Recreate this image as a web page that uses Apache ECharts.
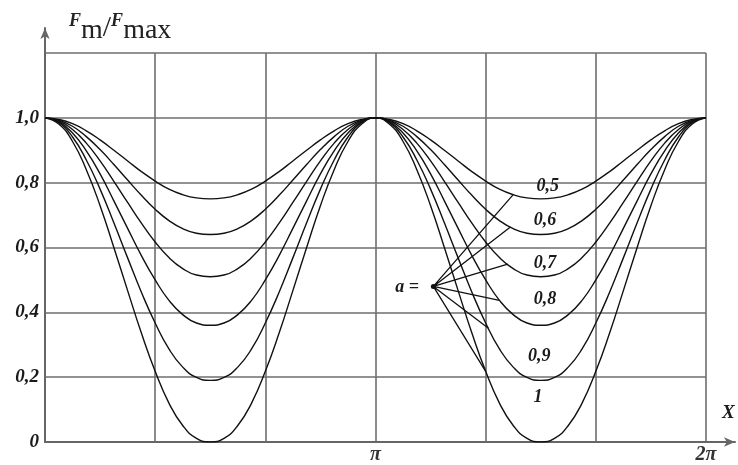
<!DOCTYPE html>
<html>
<head>
<meta charset="utf-8">
<script src="https://cdn.jsdelivr.net/npm/echarts@6/dist/echarts.min.js"></script>
<style>
  html, body { margin: 0; padding: 0; background: #fff; }
  #chart { width: 738px; height: 465px; }
</style>
</head>
<body>
<div id="chart"></div>
<script>
// x positions in steps of π/24 over one full period [0, 2π]
const xSteps = [0,1,2,3,4,5,6,7,8,9,10,11,12,13,14,15,16,17,18,19,20,21,22,23,24,
                25,26,27,28,29,30,31,32,33,34,35,36,37,38,39,40,41,42,43,44,45,46,47,48];

// Fm/Fmax for each value of a
const curveA05 = [1.000,0.995,0.982,0.960,0.932,0.900,0.867,0.834,0.805,0.780,0.763,0.753,0.750,
                  0.753,0.763,0.780,0.805,0.834,0.867,0.900,0.932,0.960,0.982,0.995,1.000,
                  0.995,0.982,0.960,0.932,0.900,0.867,0.834,0.805,0.780,0.763,0.753,0.750,
                  0.753,0.763,0.780,0.805,0.834,0.867,0.900,0.932,0.960,0.982,0.995,1.000];
const curveA06 = [1.000,0.993,0.974,0.942,0.902,0.856,0.808,0.761,0.718,0.683,0.658,0.644,0.640,
                  0.644,0.658,0.683,0.718,0.761,0.808,0.856,0.902,0.942,0.974,0.993,1.000,
                  0.993,0.974,0.942,0.902,0.856,0.808,0.761,0.718,0.683,0.658,0.644,0.640,
                  0.644,0.658,0.683,0.718,0.761,0.808,0.856,0.902,0.942,0.974,0.993,1.000];
const curveA07 = [1.000,0.991,0.964,0.922,0.867,0.804,0.739,0.675,0.617,0.569,0.535,0.515,0.510,
                  0.515,0.535,0.569,0.617,0.675,0.739,0.804,0.867,0.922,0.964,0.991,1.000,
                  0.991,0.964,0.922,0.867,0.804,0.739,0.675,0.617,0.569,0.535,0.515,0.510,
                  0.515,0.535,0.569,0.617,0.675,0.739,0.804,0.867,0.922,0.964,0.991,1.000];
const curveA08 = [1.000,0.988,0.953,0.898,0.827,0.744,0.659,0.575,0.500,0.437,0.393,0.367,0.360,
                  0.367,0.393,0.437,0.500,0.575,0.659,0.744,0.827,0.898,0.953,0.988,1.000,
                  0.988,0.953,0.898,0.827,0.744,0.659,0.575,0.500,0.437,0.393,0.367,0.360,
                  0.367,0.393,0.437,0.500,0.575,0.659,0.744,0.827,0.898,0.953,0.988,1.000];
const curveA09 = [1.000,0.985,0.941,0.870,0.780,0.676,0.568,0.462,0.367,0.287,0.231,0.199,0.190,
                  0.199,0.231,0.287,0.367,0.462,0.568,0.676,0.780,0.870,0.941,0.985,1.000,
                  0.985,0.941,0.870,0.780,0.676,0.568,0.462,0.367,0.287,0.231,0.199,0.190,
                  0.199,0.231,0.287,0.367,0.462,0.568,0.676,0.780,0.870,0.941,0.985,1.000];
const curveA10 = [1.000,0.981,0.927,0.840,0.729,0.600,0.467,0.336,0.218,0.120,0.051,0.011,0.000,
                  0.011,0.051,0.120,0.218,0.336,0.467,0.600,0.729,0.840,0.927,0.981,1.000,
                  0.981,0.927,0.840,0.729,0.600,0.467,0.336,0.218,0.120,0.051,0.011,0.000,
                  0.011,0.051,0.120,0.218,0.336,0.467,0.600,0.729,0.840,0.927,0.981,1.000];

const curves = [curveA05, curveA06, curveA07, curveA08, curveA09, curveA10];
const curveNames = ['0,5', '0,6', '0,7', '0,8', '0,9', '1'];

// tick labels
const yTickLabels = ['0', '0,2', '0,4', '0,6', '0,8', '1,0', ''];
const xTickLabels = { 24: 'π', 48: '2π' };

// "a =" annotation: leader lines from one point to a point on each curve
const leaderOrigin = [28.2, 0.48];
const leaderEnds = [[34.0, 0.763], [33.8, 0.663], [33.6, 0.549], [33.0, 0.437], [32.2, 0.351], [32.0, 0.218]];
// where each curve's a-value is written
const curveLabelAt = [[36.5, 0.79], [36.3, 0.685], [36.3, 0.552], [36.3, 0.441], [35.9, 0.265], [35.8, 0.139]];
const aLabelAt = [26.3, 0.478];

const serif = '"Liberation Serif", "DejaVu Serif", serif';
const labelFont = {
  fontFamily: serif,
  fontStyle: 'italic',
  fontWeight: 'bold',
  fontSize: 18,
  color: '#1a1a1a'
};

const gridColor = '#6e6e6e';

const series = curves.map((vals, i) => ({
  name: curveNames[i],
  type: 'line',
  xAxisIndex: 0,
  yAxisIndex: 0,
  smooth: true,
  symbol: 'none',
  lineStyle: { color: '#111', width: 1.4 },
  data: xSteps.map((x, j) => [x, vals[j]]),
  z: 3
}));

// leader lines (zig-zag back to the origin point so all rays share it)
const leaderData = [];
leaderEnds.forEach(e => { leaderData.push(leaderOrigin); leaderData.push(e); });
leaderData.push(leaderOrigin);
series.push({
  type: 'line',
  xAxisIndex: 0,
  yAxisIndex: 0,
  symbol: 'none',
  lineStyle: { color: '#111', width: 1.3 },
  data: leaderData,
  z: 4
});
// origin dot
series.push({
  type: 'scatter',
  xAxisIndex: 0,
  yAxisIndex: 0,
  symbolSize: 5,
  itemStyle: { color: '#111', opacity: 1 },
  data: [leaderOrigin],
  z: 5
});
// curve value labels and "a ="
series.push({
  type: 'scatter',
  xAxisIndex: 0,
  yAxisIndex: 0,
  symbolSize: 0,
  itemStyle: { opacity: 1 },
  data: curveLabelAt.map((p, i) => ({ value: p, name: curveNames[i] }))
    .concat([{ value: aLabelAt, name: 'a =' }]),
  label: {
    show: true,
    position: 'inside',
    formatter: p => p.name,
    ...labelFont
  },
  z: 6
});

const chart = echarts.init(document.getElementById('chart'), null, { renderer: 'canvas' });
chart.setOption({
  animation: false,
  backgroundColor: '#fff',
  title: {
    text: '{f|F}{s|m}{sl|/}{f|F}{s|max}',
    left: 64,
    top: 7,
    textStyle: {
      rich: {
        f: { fontFamily: serif, fontStyle: 'italic', fontWeight: 'bold', fontSize: 18, color: '#222', verticalAlign: 'top', lineHeight: 33 },
        s: { fontFamily: serif, fontWeight: 'normal', fontSize: 28, color: '#222', verticalAlign: 'bottom', lineHeight: 33 },
        sl: { fontFamily: serif, fontWeight: 'normal', fontSize: 30, color: '#222', lineHeight: 33 }
      }
    }
  },
  graphic: [{
    type: 'text',
    left: 722,
    top: 404,
    style: { text: 'X', font: 'italic bold 19px "Liberation Serif", serif', fill: '#1a1a1a' }
  }],
  grid: [
    { left: 45, right: 32, top: 53, bottom: 23 },
    { left: 45, right: 3, top: 28, bottom: 23 }
  ],
  xAxis: [
    {
      gridIndex: 0, type: 'value', min: 0, max: 48, interval: 8,
      axisLine: { show: false }, axisTick: { show: false },
      splitLine: { show: true, lineStyle: { color: gridColor, width: 1.6 } },
      axisLabel: {
        margin: 3,
        formatter: v => xTickLabels[v] || '',
        fontFamily: serif, fontStyle: 'italic', fontWeight: 'bold', fontSize: 20, color: '#333'
      }
    },
    {
      gridIndex: 1, type: 'value', min: 0, max: 1,
      axisLine: { show: true, symbol: ['none', 'arrow'], symbolSize: [7, 11], lineStyle: { color: '#666', width: 2 } },
      axisTick: { show: false }, axisLabel: { show: false }, splitLine: { show: false }
    }
  ],
  yAxis: [
    {
      gridIndex: 0, type: 'value', min: 0, max: 1.2, interval: 0.2,
      axisLine: { show: false }, axisTick: { show: false },
      splitLine: { show: true, lineStyle: { color: gridColor, width: 1.6 } },
      axisLabel: {
        margin: 6,
        formatter: v => yTickLabels[Math.round(v / 0.2)],
        ...labelFont,
        fontSize: 19
      }
    },
    {
      gridIndex: 1, type: 'value', min: 0, max: 1,
      axisLine: { show: true, symbol: ['none', 'arrow'], symbolSize: [7, 11], lineStyle: { color: '#666', width: 2 } },
      axisTick: { show: false }, axisLabel: { show: false }, splitLine: { show: false }
    }
  ],
  series: series
});
</script>
</body>
</html>
